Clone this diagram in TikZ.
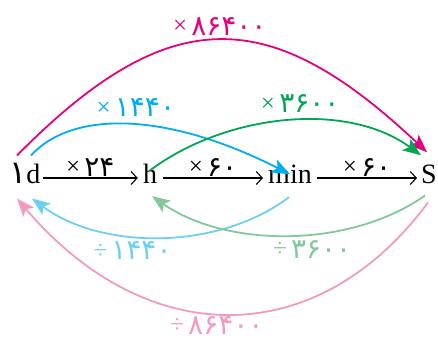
\documentclass[tikz,border=0pt]{standalone}
\usepackage{fontspec}
\setmainfont{Liberation Serif}
\newfontfamily\fanum{DejaVu Sans}
\usetikzlibrary{arrows.meta}
\definecolor{daymag}{HTML}{E6007E}
\definecolor{daycyan}{HTML}{00AEEF}
\definecolor{hourgreen}{HTML}{00A651}
\definecolor{divcyan}{HTML}{6DCFF6}
\definecolor{divgreen}{HTML}{82C99A}
\definecolor{divpink}{HTML}{F49AC1}
% Persian digits, larger than the sign in front of them
\newcommand{\digs}[1]{{\fanum\fontsize{28}{30}\selectfont #1}}
\newcommand{\op}[1]{\raisebox{1.5pt}{#1}\,}

\begin{document}
\begin{tikzpicture}[x=1pt,y=-1pt,
  unit/.style={font=\fontsize{28}{30}\selectfont,inner sep=0pt,anchor=base},
  fac/.style={font=\fontsize{25}{27}\selectfont,inner sep=1pt},
  jump/.style={line width=1.8pt,-{Stealth[length=18pt,width=14pt,inset=4pt]}},
  conv/.style={line width=1.1pt,-{Straight Barb[length=6pt,width=13pt]}}]
\useasboundingbox (0,0) rectangle (438,341);
% units
\node[unit] (d) at (25,183) {{\fanum\fontsize{32}{32}\selectfont ۱}\kern-0.5pt d};
\node[unit] (h) at (150,183) {h};
\node[unit] (min) at (290,183) {min};
\node[unit] (s) at (429,183) {S};
% one step at a time
\draw[conv] ([shift={(2,-5)}]d.base east) -- node[fac,above=0pt] {\op{×}\digs{۲۴}} ([shift={(-5,-5)}]h.base west);
\draw[conv] ([shift={(6,-5)}]h.base east) -- node[fac,above=0pt] {\op{×}\digs{۶۰}} ([shift={(-5,-5)}]min.base west);
\draw[conv] ([shift={(5,-5)}]min.base east) -- node[fac,above=0pt] {\op{×}\digs{۶۰}} ([shift={(-4,-5)}]s.base west);
% long jumps over the top
\draw[jump,daymag] ([shift={(-8,-7)}]d.north) .. controls +(152,-154) and +(-158,-149) .. node[fac,above=3pt] {\op{×}\digs{۸۶۴۰۰}} ([shift={(-2,-12)}]s.north);
\draw[jump,daycyan] ([shift={(6,-7)}]d.north) .. controls +(42,-46) and +(-122,-62) .. node[fac,pos=.52,above=6pt] {\op{×}\digs{۱۴۴۰}} ([yshift=-10]min.north);
\draw[jump,hourgreen] ([yshift=-7]h.north) .. controls +(75,-56) and +(-75,-55) .. node[fac,pos=.55,above=6pt] {\op{×}\digs{۳۶۰۰}} ([shift={(-8,-9)}]s.north);
% and back underneath
\draw[jump,divcyan] ([shift={(-1,14)}]min.south) .. controls +(-70,53) and +(70,52) .. node[fac,pos=.6,below=4pt] {\op{÷}\digs{۱۴۴۰}} ([shift={(7,15)}]d.south);
\draw[jump,divgreen] ([shift={(-4,12)}]s.south) .. controls +(-75,53) and +(75,52) .. node[fac,pos=.42,below=4pt] {\op{÷}\digs{۳۶۰۰}} ([shift={(2,13)}]h.south);
\draw[jump,divpink] ([shift={(-1,19)}]s.south) .. controls +(-110,149) and +(130,153) .. node[fac,pos=.53,below=1pt] {\op{÷}\digs{۸۶۴۰۰}} ([shift={(-8,15)}]d.south);
\end{tikzpicture}
\end{document}
